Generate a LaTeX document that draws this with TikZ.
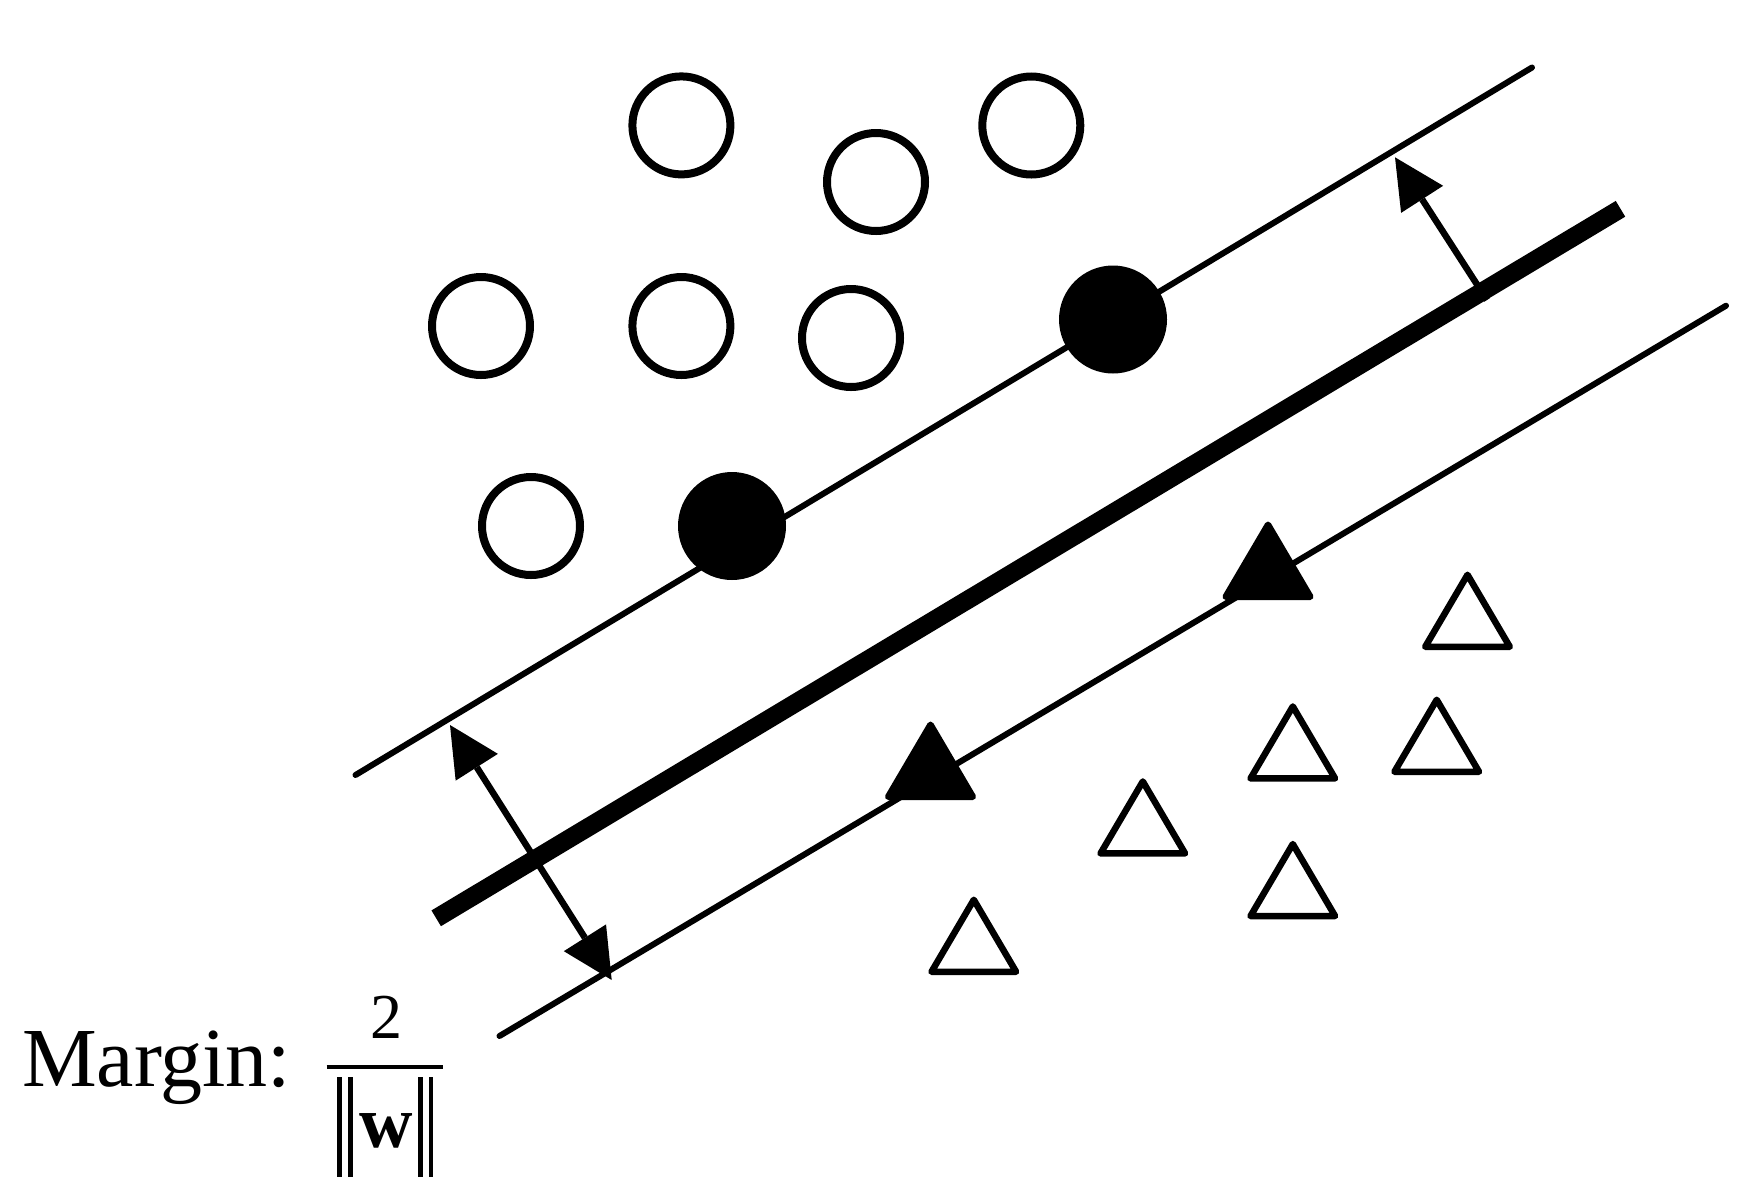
\documentclass[tikz,border=0pt]{standalone}
\usepackage{fontspec}
\setmainfont{Liberation Serif}
\usetikzlibrary{arrows.meta}
\tikzset{
  opencirc/.style={circle, draw=black, line width=8pt, minimum size=98pt, inner sep=0pt, fill=white},
  solidcirc/.style={circle, fill=black, minimum size=108pt, inner sep=0pt},
  thinline/.style={line width=6pt, line cap=round},
  thickline/.style={line width=18.4pt, line cap=butt},
  arrowline/.style={line width=6.5pt},
  bigtip/.tip={Triangle[length=50pt,width=50pt,line width=0pt]},
  opentri/.pic={\draw[line width=6.5pt, line join=round] (-42.3,0) -- (42.3,0) -- (0,-72) -- cycle;},
  solidtri/.pic={\filldraw[line width=6.5pt, line join=round] (-42.3,0) -- (42.3,0) -- (0,-72) -- cycle;}
}
\begin{document}
\begin{tikzpicture}[x=1pt,y=-1pt]
\useasboundingbox (0,0) rectangle (1764,1203);

% lines
\coordinate (u1) at (355.5,775);
\coordinate (u2) at (1532,67.5);
\coordinate (m1) at (436.2,918.3);
\coordinate (m2) at (1620.5,208.8);
\coordinate (l1) at (499.5,1036);
\coordinate (l2) at (1726,305.7);
\draw[thinline] (u1) -- (u2);
\draw[thickline] (m1) -- (m2);
\draw[thinline] (l1) -- (l2);

% margin arrows
\coordinate (a1) at (450,725);
\coordinate (a2) at (611.7,980);
\coordinate (b1) at (1487,300);
\coordinate (b2) at (1395,157.3);
\draw[arrowline, bigtip-bigtip] (a1) -- (a2);
\draw[arrowline, -bigtip] (b1) -- (b2);

% open circles
\node[opencirc] (c1) at (681.4,125.4) {};
\node[opencirc] (c2) at (876,182) {};
\node[opencirc] (c3) at (1031.3,125.5) {};
\node[opencirc] (c4) at (481,326) {};
\node[opencirc] (c5) at (681.4,326) {};
\node[opencirc] (c6) at (851,338) {};
\node[opencirc] (c7) at (531,526) {};

% support vectors (circles)
\node[solidcirc] (s1) at (732,526) {};
\node[solidcirc] (s2) at (1113,319.5) {};

% support vectors (triangles)
\pic at (1268,596.75) {solidtri};
\pic at (930.5,796.75) {solidtri};

% open triangles
\pic at (1467.5,646.75) {opentri};
\pic at (1292.8,778.45) {opentri};
\pic at (1436.7,771.75) {opentri};
\pic at (1142.8,853.45) {opentri};
\pic at (1292.8,916.05) {opentri};
\pic at (973.8,971.75) {opentri};

% margin label
\node[anchor=base west, inner sep=0pt, font=\fontsize{84}{90}\selectfont] (mlabel) at (22,1086) {Margin:};
\node[anchor=base, inner sep=0pt, font=\fontsize{64}{70}\selectfont] (num) at (386.5,1038.7) {2};
\node[anchor=base, inner sep=0pt, font=\fontsize{74}{80}\selectfont\bfseries] (den) at (386,1147.3) {w};
\draw[line width=4pt] (326.7,1066.5) -- (443,1066.5);
\draw[line width=4.7pt] (339.7,1077.3) -- (339.7,1176.7);
\draw[line width=4.7pt] (350.3,1077.3) -- (350.3,1176.7);
\draw[line width=4.7pt] (420.3,1077.3) -- (420.3,1176.7);
\draw[line width=4.7pt] (431,1077.3) -- (431,1176.7);
\end{tikzpicture}
\end{document}
